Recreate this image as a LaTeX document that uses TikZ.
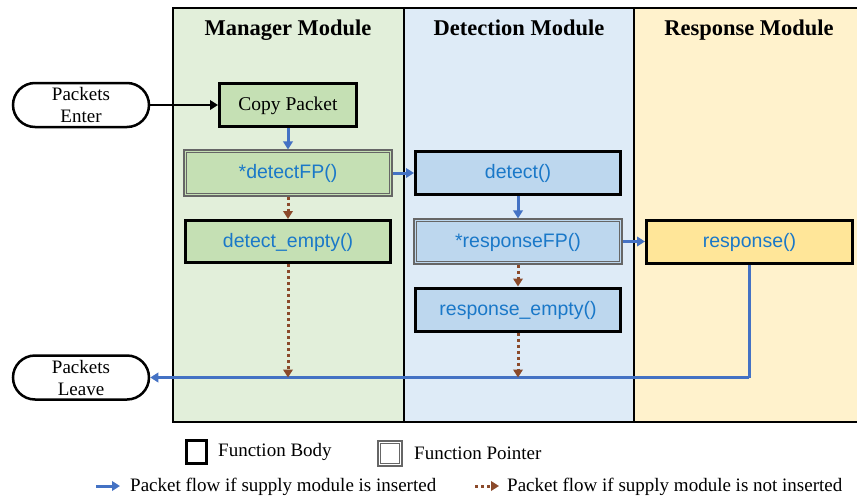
\documentclass[tikz,border=0pt]{standalone}
\usepackage{fontspec}
\setmainfont{Liberation Serif}
\newfontfamily\fnfont{Liberation Sans}
\usetikzlibrary{arrows.meta,calc}

\definecolor{mgrbg}{HTML}{E2EFDA}
\definecolor{mgrbox}{HTML}{C5E0B4}
\definecolor{detbg}{HTML}{DEEBF7}
\definecolor{detbox}{HTML}{BDD7EE}
\definecolor{rspbg}{HTML}{FFF2CC}
\definecolor{rspbox}{HTML}{FFE699}
\definecolor{fntext}{HTML}{1A78C8}
\definecolor{flowblue}{HTML}{4472C4}
\definecolor{flowbrown}{HTML}{8B4A2B}

\tikzset{
  column/.style={draw=black, line width=1.2pt},
  header/.style={font=\fontsize{22.5}{26}\selectfont\bfseries, anchor=base},
  fnbody/.style={draw=black, line width=3pt, inner sep=0pt,
    text height=14pt, text depth=3pt,
    font=\fnfont\fontsize{19.5}{22}\selectfont, text=fntext},
  fnptr/.style={draw=black!60, line width=1.1pt, inner sep=0pt,
    text height=14pt, text depth=3pt,
    font=\fnfont\fontsize{19.5}{22}\selectfont, text=fntext},
  ptrinner/.style={draw=black!60, line width=1.1pt},
  terminal/.style={draw=black, line width=2.5pt, rounded corners=22pt,
    minimum width=136pt, minimum height=44pt, align=center,
    font=\fontsize{19}{22}\selectfont},
  tip/.style={-{Triangle[length=8pt,width=9.5pt]}},
  blueflow/.style={draw=flowblue, line width=3pt, tip},
  brownflow/.style={draw=flowbrown, line width=3pt,
    dash pattern=on 3pt off 3pt, tip},
  label/.style={font=\fontsize{19}{22}\selectfont, anchor=west, inner sep=0pt},
}

\begin{document}
\begin{tikzpicture}[x=1pt, y=-1pt]
\useasboundingbox (0,0) rectangle (857,501);

% module columns
\fill[mgrbg] (173,8) rectangle (404,422);
\fill[detbg] (404,8) rectangle (634,422);
\fill[rspbg] (634,8) rectangle (857,422);
\draw[column] (856.5,8) -- (173,8) -- (173,422) -- (856.5,422);
\draw[column] (404,8) -- (404,422);
\draw[column] (634,8) -- (634,422);

\node[header] (hm) at (288,35) {Manager Module};
\node[header] (hd) at (519,35) {Detection Module};
\node[header] (hr) at (749,35) {Response Module};

% terminals
\node[terminal] (enter) at (81,105) {Packets\\Enter};
\node[terminal] (leave) at (81,377.5) {Packets\\Leave};

% functions
\node[fnbody, fill=mgrbox, minimum width=137pt, minimum height=43pt,
  font=\fontsize{19.5}{22}\selectfont, text=black] (copy) at (288,105) {Copy Packet};
\node[fnptr, fill=mgrbox, minimum width=208pt, minimum height=46pt]
  (dfp) at (288,173) {*detectFP()};
\node[fnbody, fill=mgrbox, minimum width=205pt, minimum height=42pt]
  (dempty) at (288,241.5) {detect\_empty()};

\node[fnbody, fill=detbox, minimum width=205pt, minimum height=43pt]
  (det) at (518,173) {detect()};
\node[fnptr, fill=detbox, minimum width=208pt, minimum height=45pt]
  (rfp) at (518,241.5) {*responseFP()};
\node[fnbody, fill=detbox, minimum width=205pt, minimum height=43pt]
  (rempty) at (518,309.5) {response\_empty()};

\node[fnbody, fill=rspbox, minimum width=206pt, minimum height=43pt]
  (resp) at (749.5,241.5) {response()};

% inner lines of the function-pointer frames
\draw[ptrinner] ($(dfp.south west)+(2.8pt,2.8pt)$) rectangle ($(dfp.north east)+(-2.8pt,-2.8pt)$);
\draw[ptrinner] ($(rfp.south west)+(2.8pt,2.8pt)$) rectangle ($(rfp.north east)+(-2.8pt,-2.8pt)$);

% junctions on the leaving line
\coordinate (jd) at (dempty.south |- leave.east);
\coordinate (jr) at (rempty.south |- leave.east);
\coordinate (jc) at (749,0 |- leave.east);

% connectors
\draw[line width=2.8pt, tip] (enter.east) -- (copy.west);
\draw[blueflow] (copy.south) -- (dfp.north);
\draw[blueflow] (dfp.east) -- (det.west);
\draw[blueflow] (det.south) -- (rfp.north);
\draw[blueflow] (rfp.east) -- (resp.west);
\draw[flowblue, line width=3pt] (resp.south -| jc) -- (jc);
\draw[blueflow] (jc) -- (leave.east);
\draw[brownflow] (dfp.south) -- (dempty.north);
\draw[brownflow] (rfp.south) -- (rempty.north);
\draw[brownflow] (dempty.south) -- (jd);
\draw[brownflow] (rempty.south) -- (jr);

% legend
\node[draw=black, line width=3pt, minimum width=20pt, minimum height=23pt, inner sep=0pt]
  (lgbody) at (196,452) {};
\node[label] (lgbodyt) at (218,452) {Function Body};
\node[draw=black!60, line width=1.1pt, minimum width=24pt, minimum height=25pt, inner sep=0pt]
  (lgptr) at (390,453.5) {};
\draw[ptrinner] ($(lgptr.south west)+(2.8pt,2.8pt)$) rectangle ($(lgptr.north east)+(-2.8pt,-2.8pt)$);
\node[label] (lgptrt) at (414,453.5) {Function Pointer};

\coordinate (lb1) at (96,486);
\coordinate (lb2) at (120,486);
\draw[blueflow] (lb1) -- (lb2);
\node[label] (lgbluet) at (130,486.5) {Packet flow if supply module is inserted};
\coordinate (lr1) at (475,486);
\coordinate (lr2) at (499,486);
\draw[brownflow] (lr1) -- (lr2);
\node[label] (lgbrownt) at (507,486.5) {Packet flow if supply module is not inserted};
\end{tikzpicture}
\end{document}
